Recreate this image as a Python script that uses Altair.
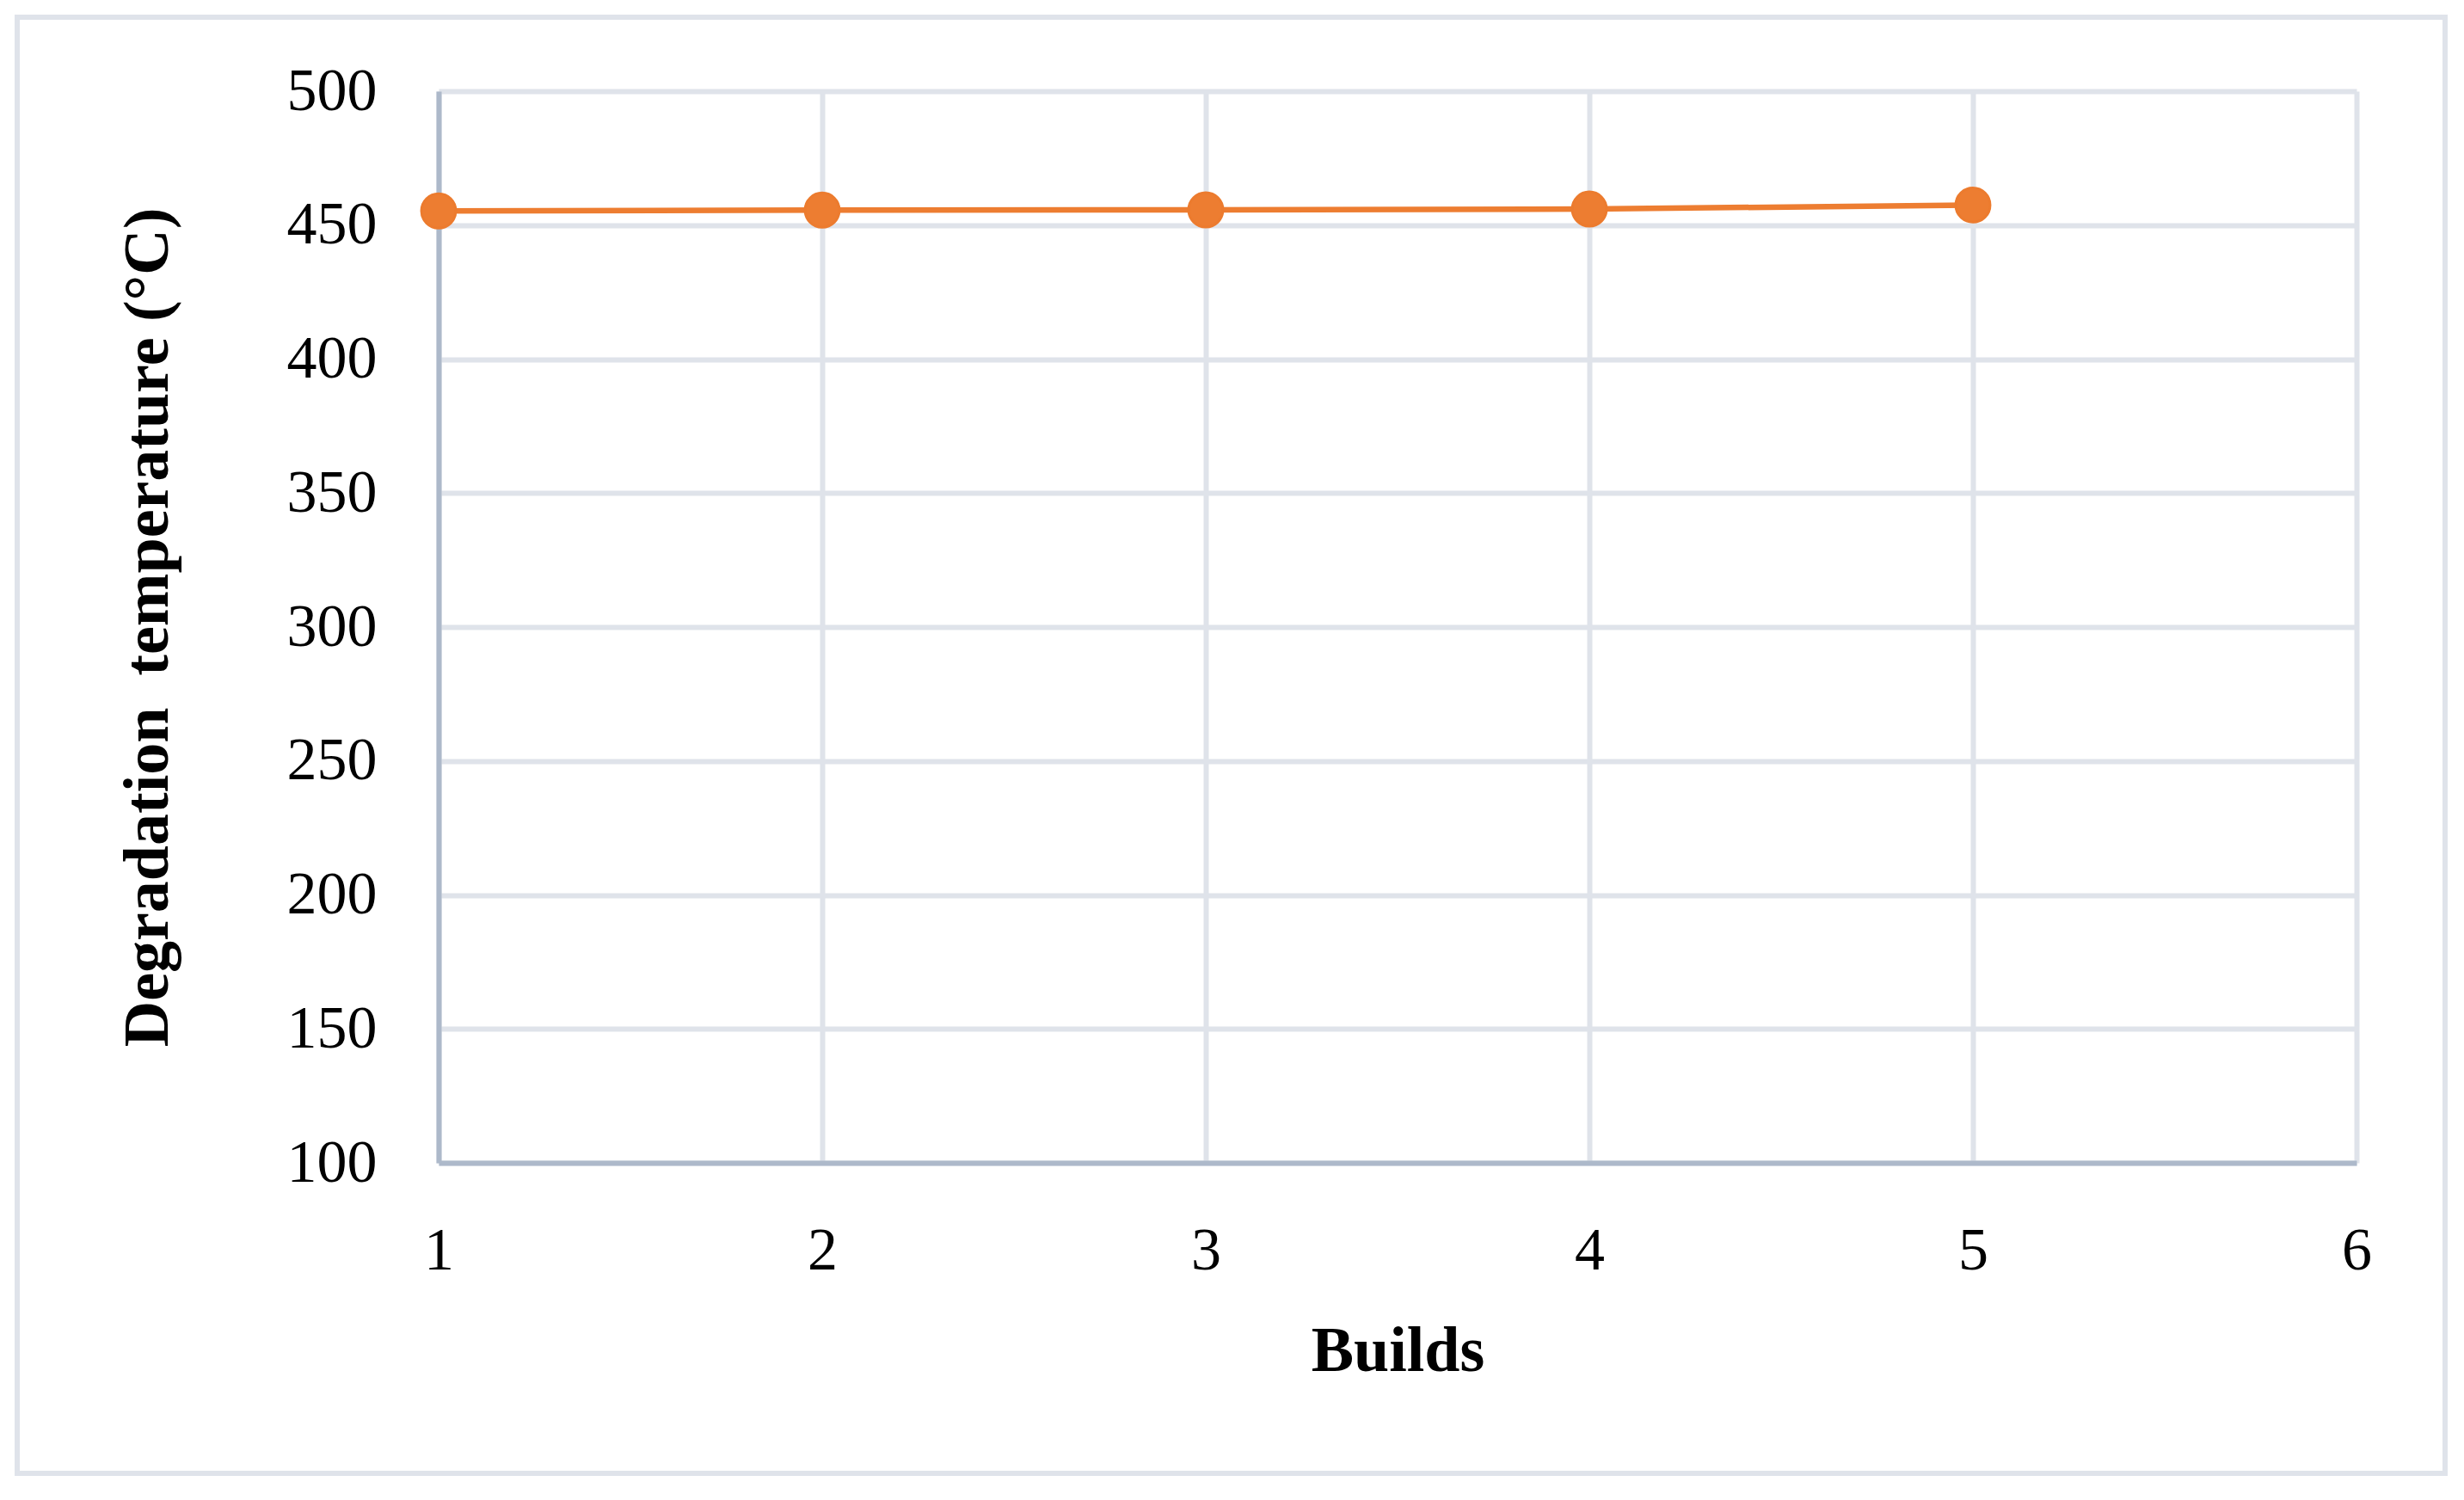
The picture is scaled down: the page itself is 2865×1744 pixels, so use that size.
import altair as alt
import pandas as pd

builds = [1, 2, 3, 4, 5]
temps = [455.3, 455.6, 455.7, 456.0, 457.5]
x_ticks = [1, 2, 3, 4, 5, 6]
y_ticks = [100, 150, 200, 250, 300, 350, 400, 450, 500]

df = pd.DataFrame({"Builds": builds, "Temp": temps})

FONT = "Liberation Serif"
ORANGE = "#ED7D31"
GRID = "#DFE3EA"
AXIS = "#ADB9CA"

W, H = 2230, 1246

x_enc = alt.X(
    "Builds:Q",
    scale=alt.Scale(domain=[1, 6], nice=False, zero=False),
    axis=alt.Axis(
        title="Builds",
        values=x_ticks,
        format="d",
        grid=True,
        gridColor=GRID,
        gridWidth=6,
        domainColor=AXIS,
        domainWidth=6,
        ticks=False,
        labelFlush=False,
        labelOverlap=False,
        labelFont=FONT,
        labelFontSize=70,
        labelColor="black",
        labelPadding=123,
        labelBaseline="alphabetic",
        titleFont=FONT,
        titleFontSize=74,
        titleFontWeight="bold",
        titleColor="black",
        titleX=W / 2,
        titleY=241,
        titleAlign="center",
        titleBaseline="alphabetic",
    ),
)

y_enc = alt.Y(
    "Temp:Q",
    scale=alt.Scale(domain=[100, 500], nice=False, zero=False),
    axis=alt.Axis(
        title="Degradation\u00a0 temperature (°C)",
        values=y_ticks,
        format="d",
        grid=True,
        gridColor=GRID,
        gridWidth=6,
        domainColor=AXIS,
        domainWidth=6,
        ticks=False,
        labelFlush=False,
        labelOverlap=False,
        labelFont=FONT,
        labelFontSize=70,
        labelColor="black",
        labelPadding=72,
        labelBaseline="middle",
        titleFont=FONT,
        titleFontSize=74,
        titleFontWeight="bold",
        titleColor="black",
        titleAngle=270,
        titleX=-338,
        titleY=H / 2,
        titleAlign="center",
        titleBaseline="middle",
    ),
)

line = alt.Chart(df).mark_line(color=ORANGE, strokeWidth=6.5).encode(x=x_enc, y=y_enc)
points = alt.Chart(df).mark_point(
    filled=True, fill=ORANGE, stroke="#EC7B2E", strokeWidth=3, size=1590, opacity=1
).encode(x="Builds:Q", y="Temp:Q")

border = alt.Chart(pd.DataFrame({"a": [0]})).mark_rect(
    fill=None, stroke=GRID, strokeWidth=6
).encode(
    x=alt.value(-490), x2=alt.value(2333), y=alt.value(-86), y2=alt.value(1607)
)

chart = (
    alt.layer(border, line, points)
    .properties(
        width=W,
        height=H,
        autosize=alt.AutoSizeParams(type="none"),
        padding={"left": 502, "top": 98, "right": 115, "bottom": 372},
        background="white",
    )
    .configure_view(stroke=None)
)

chart.save("out.html", embed_options={"renderer": "svg", "actions": False})
